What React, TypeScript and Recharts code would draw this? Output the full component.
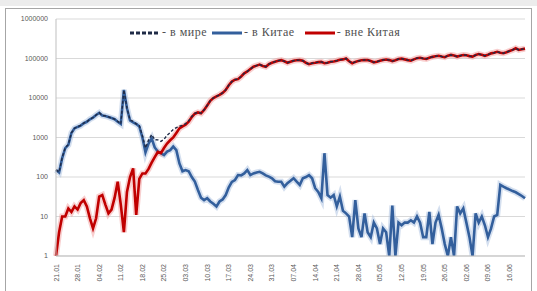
import React from 'react'
import { LineChart, Line, XAxis, YAxis, CartesianGrid } from 'recharts'

// дни с 21.01 по 21.06
const DATES = [
  '21.01', '22.01', '23.01', '24.01', '25.01', '26.01', '27.01', '28.01', '29.01', '30.01', '31.01',
  '01.02', '02.02', '03.02', '04.02', '05.02', '06.02', '07.02', '08.02', '09.02', '10.02',
  '11.02', '12.02', '13.02', '14.02', '15.02', '16.02', '17.02', '18.02', '19.02', '20.02',
  '21.02', '22.02', '23.02', '24.02', '25.02', '26.02', '27.02', '28.02', '29.02',
  '01.03', '02.03', '03.03', '04.03', '05.03', '06.03', '07.03', '08.03', '09.03', '10.03',
  '11.03', '12.03', '13.03', '14.03', '15.03', '16.03', '17.03', '18.03', '19.03', '20.03',
  '21.03', '22.03', '23.03', '24.03', '25.03', '26.03', '27.03', '28.03', '29.03', '30.03', '31.03',
  '01.04', '02.04', '03.04', '04.04', '05.04', '06.04', '07.04', '08.04', '09.04', '10.04',
  '11.04', '12.04', '13.04', '14.04', '15.04', '16.04', '17.04', '18.04', '19.04', '20.04',
  '21.04', '22.04', '23.04', '24.04', '25.04', '26.04', '27.04', '28.04', '29.04', '30.04',
  '01.05', '02.05', '03.05', '04.05', '05.05', '06.05', '07.05', '08.05', '09.05', '10.05',
  '11.05', '12.05', '13.05', '14.05', '15.05', '16.05', '17.05', '18.05', '19.05', '20.05',
  '21.05', '22.05', '23.05', '24.05', '25.05', '26.05', '27.05', '28.05', '29.05', '30.05', '31.05',
  '01.06', '02.06', '03.06', '04.06', '05.06', '06.06', '07.06', '08.06', '09.06', '10.06',
  '11.06', '12.06', '13.06', '14.06', '15.06', '16.06', '17.06', '18.06', '19.06', '20.06', '21.06',
]

const TICK_DATES = [
  '21.01', '28.01', '04.02', '11.02', '18.02', '25.02', '03.03', '10.03', '17.03', '24.03', '31.03',
  '07.04', '14.04', '21.04', '28.04', '05.05', '12.05', '19.05', '26.05', '02.06', '09.06', '16.06',
]

const Y_TICKS = [1, 10, 100, 1000, 10000, 100000, 1000000]

const WORLD = [
  151, 134, 310, 550, 666, 1313, 1718, 1865, 2022, 2326,
  2518, 2909, 3205, 3709, 4232, 3635, 3520, 3312, 3115, 2930,
  2576, 2220, 16004, 5542, 2800, 2565, 2211, 1990, 1123, 543,
  860, 1180, 880, 870, 800, 900, 1140, 1330, 1590, 1780,
  1920, 2040, 2250, 2640, 3400, 4077, 4347, 4130, 5026, 6529,
  8524, 10021, 11018, 12024, 13527, 16035, 21055, 26075, 29084, 30112,
  35110, 42123, 47150, 54112, 62123, 66130, 70135, 65123, 62110, 72102,
  78093, 83078, 88076, 91076, 85057, 78070, 83080, 88093, 90076, 91063,
  88093, 78100, 72112, 76093, 78052, 81042, 82029, 76400, 78035, 83030,
  84035, 88018, 93032, 95014, 100012, 85010, 76003, 82026, 87005, 90003,
  92012, 91004, 86003, 80007, 83005, 88002, 92005, 94004, 91001, 86019,
  90001, 97007, 99006, 95007, 91007, 88008, 95007, 102010, 104007, 100003,
  98003, 105013, 110003, 114007, 117011, 112005, 108002, 118001, 123003, 119001,
  112018, 118012, 123016, 121007, 115003, 112001, 122012, 129007, 124010, 117006,
  125003, 135005, 140010, 148011, 140063, 136057, 144052, 155048, 165044, 181041,
  165037, 172033, 178029,
]

const CHINA = [
  150, 130, 300, 540, 650, 1300, 1700, 1850, 2000, 2300,
  2500, 2900, 3200, 3700, 4200, 3600, 3500, 3300, 3100, 2900,
  2500, 2200, 16000, 5500, 2700, 2400, 2200, 1900, 1000, 420,
  700, 950, 560, 440, 400, 360, 440, 480, 590, 480,
  220, 140, 150, 140, 100, 77, 47, 30, 26, 29,
  24, 21, 18, 24, 27, 35, 55, 75, 84, 112,
  110, 123, 150, 112, 123, 130, 135, 123, 110, 102,
  93, 78, 76, 76, 57, 70, 80, 93, 76, 63,
  93, 100, 112, 93, 52, 42, 29, 400, 35, 30,
  35, 18, 32, 14, 12, 10, 3, 26, 5, 3,
  12, 4, 3, 7, 5, 2, 5, 4, 1, 19,
  1, 7, 6, 7, 7, 8, 7, 10, 7, 3,
  3, 13, 2, 7, 11, 5, 2, 1, 3, 1,
  18, 12, 16, 7, 3, 1, 12, 7, 10, 6,
  3, 5, 10, 11, 63, 57, 52, 48, 44, 41,
  37, 33, 29,
]

const OUTSIDE = [
  1, 4, 10, 10, 16, 13, 18, 15, 22, 26,
  18, 9, 5, 9, 32, 35, 20, 12, 15, 30,
  76, 20, 4, 42, 100, 165, 11, 90, 123, 123,
  160, 230, 320, 430, 400, 540, 700, 850, 1000, 1300,
  1700, 1900, 2100, 2500, 3300, 4000, 4300, 4100, 5000, 6500,
  8500, 10000, 11000, 12000, 13500, 16000, 21000, 26000, 29000, 30000,
  35000, 42000, 47000, 54000, 62000, 66000, 70000, 65000, 62000, 72000,
  78000, 83000, 88000, 91000, 85000, 78000, 83000, 88000, 90000, 91000,
  88000, 78000, 72000, 76000, 78000, 81000, 82000, 76000, 78000, 83000,
  84000, 88000, 93000, 95000, 100000, 85000, 76000, 82000, 87000, 90000,
  92000, 91000, 86000, 80000, 83000, 88000, 92000, 94000, 91000, 86000,
  90000, 97000, 99000, 95000, 91000, 88000, 95000, 102000, 104000, 100000,
  98000, 105000, 110000, 114000, 117000, 112000, 108000, 118000, 123000, 119000,
  112000, 118000, 123000, 121000, 115000, 112000, 122000, 129000, 124000, 117000,
  125000, 135000, 140000, 148000, 140000, 136000, 144000, 155000, 165000, 181000,
  165000, 172000, 178000,
]

const data = DATES.map((date, i) => ({
  date,
  world: WORLD[i],
  china: CHINA[i],
  outside: OUTSIDE[i],
}))

const WORLD_COLOR = '#1f2b47'
const CHINA_COLOR = '#335f9c'
const OUTSIDE_COLOR = '#c00000'

function DateTick({ x, y, payload }: any) {
  return (
    <g transform={`translate(${x},${y})`}>
      <text
        x={0}
        y={0}
        dy={2.5}
        transform="rotate(-90)"
        textAnchor="end"
        fontSize={7}
        fill="#595959"
        fontFamily="Liberation Sans, Arial, sans-serif"
      >
        {payload.value}
      </text>
    </g>
  )
}

function LegendBox() {
  const item = (color: string, dashed: boolean, label: string, gap: number) => (
    <span style={{ display: 'inline-flex', alignItems: 'center', marginRight: gap }}>
      <svg width={30} height={6} style={{ marginRight: 2 }}>
        <line
          x1={0}
          y1={3}
          x2={30}
          y2={3}
          stroke={color}
          strokeWidth={3}
          strokeDasharray={dashed ? '4 2' : undefined}
        />
      </svg>
      <span>{label}</span>
    </span>
  )
  return (
    <div
      style={{
        position: 'absolute',
        left: 130,
        top: 25,
        display: 'flex',
        alignItems: 'center',
        fontFamily: 'Liberation Serif, Times New Roman, serif',
        fontSize: 12,
        letterSpacing: 0.5,
        color: '#505050',
        whiteSpace: 'nowrap',
      }}
    >
      {item(WORLD_COLOR, true, '- в мире', 5)}
      {item(CHINA_COLOR, false, '- в Китае', 10)}
      {item(OUTSIDE_COLOR, false, '- вне Китая', 0)}
    </div>
  )
}

export default function App() {
  return (
    <div
      style={{
        position: 'absolute',
        left: 0,
        top: 0,
        width: 537,
        height: 291,
        background: '#ffffff',
        overflow: 'hidden',
      }}
    >
      {/* серая полоса сверху и рамка */}
      <div style={{ position: 'absolute', left: 0, top: 0, width: 537, height: 6, background: '#ececec' }} />
      <div
        style={{
          position: 'absolute',
          left: 5,
          top: 8,
          width: 527,
          height: 290,
          border: '1px solid #a6a6a6',
          boxSizing: 'border-box',
        }}
      />
      <div style={{ position: 'absolute', left: 0, top: 0 }}>
        <LineChart
          width={537}
          height={291}
          data={data}
          margin={{ top: 19, right: 12, bottom: 0, left: 0 }}
        >
          <CartesianGrid vertical={false} stroke="#d9d9d9" />
          <XAxis
            dataKey="date"
            ticks={TICK_DATES}
            interval={0}
            tick={<DateTick />}
            tickLine={false}
            axisLine={{ stroke: '#bfbfbf' }}
            height={35}
          />
          <YAxis
            scale="log"
            domain={[1, 1000000]}
            ticks={Y_TICKS}
            interval={0}
            allowDataOverflow
            width={56}
            tickLine={false}
            axisLine={{ stroke: '#bfbfbf' }}
            tickFormatter={(v: number) => String(v)}
            tick={{ fontSize: 7, fill: '#595959', fontFamily: 'Liberation Sans, Arial, sans-serif' }}
          />
          {/* мягкое свечение под линиями */}
          <Line
            key="china-glow"
            dataKey="china"
            stroke="#a9c0e0"
            strokeOpacity={0.5}
            strokeWidth={6}
            dot={false}
            legendType="none"
            isAnimationActive={false}
          />
          <Line
            key="outside-glow"
            dataKey="outside"
            stroke="#f2a0a0"
            strokeOpacity={0.5}
            strokeWidth={6}
            dot={false}
            legendType="none"
            isAnimationActive={false}
          />
          <Line
            key="china"
            dataKey="china"
            name="- в Китае"
            stroke={CHINA_COLOR}
            strokeWidth={2.6}
            dot={false}
            isAnimationActive={false}
          />
          <Line
            key="outside"
            dataKey="outside"
            name="- вне Китая"
            stroke={OUTSIDE_COLOR}
            strokeWidth={2.6}
            dot={false}
            isAnimationActive={false}
          />
          <Line
            key="world"
            dataKey="world"
            name="- в мире"
            stroke={WORLD_COLOR}
            strokeWidth={1.4}
            strokeDasharray="3 2"
            dot={false}
            isAnimationActive={false}
          />
        </LineChart>
      </div>
      <LegendBox />
    </div>
  )
}
